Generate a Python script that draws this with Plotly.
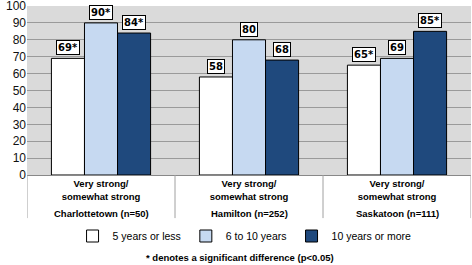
import plotly.graph_objects as go

cities = ["Charlottetown (n=50)", "Hamilton (n=252)", "Saskatoon (n=111)"]
category_label = "Very strong/<br>somewhat strong"
series_names = ["5 years or less", "6 to 10 years", "10 years or more"]
values_5less = [69, 58, 65]
values_6to10 = [90, 80, 69]
values_10more = [84, 68, 85]
sig_5less = [True, False, True]
sig_6to10 = [True, False, False]
sig_10more = [True, False, True]
y_ticks = [0, 10, 20, 30, 40, 50, 60, 70, 80, 90, 100]
footnote = "* denotes a significant difference (p<0.05)"

colors = ["#ffffff", "#c6d9f1", "#1f497d"]
series_vals = [values_5less, values_6to10, values_10more]
series_sig = [sig_5less, sig_6to10, sig_10more]

x = [0, 1, 2]
fig = go.Figure()
for name, vals, col in zip(series_names, series_vals, colors):
    fig.add_trace(go.Bar(x=x, y=vals, name=name, marker=dict(color=col, line=dict(color="#000000", width=1))))

bargap = 0.33
bw = (1 - bargap) / 3
annotations = []
for si, (vals, sigs) in enumerate(zip(series_vals, series_sig)):
    off = (si - 1) * bw
    for ci, (v, s) in enumerate(zip(vals, sigs)):
        annotations.append(dict(
            x=ci + off, y=v, xref="x", yref="y", text="<b>%d%s</b>" % (v, "*" if s else ""),
            showarrow=False, yanchor="bottom", yshift=3,
            font=dict(family="DejaVu Sans", size=10, color="#000"),
            bgcolor="#ffffff", bordercolor="#000000", borderwidth=1, borderpad=1))

lab_font = dict(family="Liberation Sans, Arial", size=9.5, color="#000")
for ci, c in enumerate(cities):
    annotations.append(dict(x=ci, y=-0.225, xref="x", yref="paper", text="<b>%s</b>" % c,
                            showarrow=False, yanchor="middle", font=lab_font))

annotations.append(dict(x=0.48, y=-0.488, xref="paper", yref="paper", text="<b>%s</b>" % footnote,
                        showarrow=False, yanchor="middle",
                        font=dict(family="Liberation Sans, Arial", size=9.5, color="#000")))

shapes = []
for xs in [-0.5, 0.5, 1.5, 2.5]:
    shapes.append(dict(type="line", xref="x", yref="paper", x0=xs, x1=xs, y0=0, y1=-0.255,
                       line=dict(color="#a0a0a0", width=1)))

fig.update_layout(
    width=472, height=265,
    margin=dict(l=27, r=1, t=6, b=90, autoexpand=False),
    paper_bgcolor="#ffffff", plot_bgcolor="#dadada",
    barmode="group", bargap=bargap, bargroupgap=0,
    showlegend=True,
    legend=dict(orientation="h", x=0.49, xanchor="center", xref="paper",
                y=29 / 265, yanchor="middle", yref="container",
                font=dict(family="Liberation Sans, Arial", size=10.5, color="#000"),
                itemwidth=30, tracegroupgap=0),
    annotations=annotations, shapes=shapes,
    xaxis=dict(tickvals=x, ticktext=["<b>%s</b>" % category_label] * 3, range=[-0.5, 2.5],
               tickfont=lab_font, showgrid=False,
               showline=True, linecolor="#888", ticks="", zeroline=False, automargin=False),
    yaxis=dict(range=[0, 100], tickvals=y_ticks, showgrid=True, gridcolor="#9a9a9a", gridwidth=1,
               tickfont=dict(family="Liberation Sans, Arial", size=12, color="#111"),
               zeroline=False, showline=False, ticks="", automargin=False,
               ticklabeloverflow="allow"),
)
fig.write_html("out.html", config={"displayModeBar": False},
               post_script="document.body.style.margin='0';")
